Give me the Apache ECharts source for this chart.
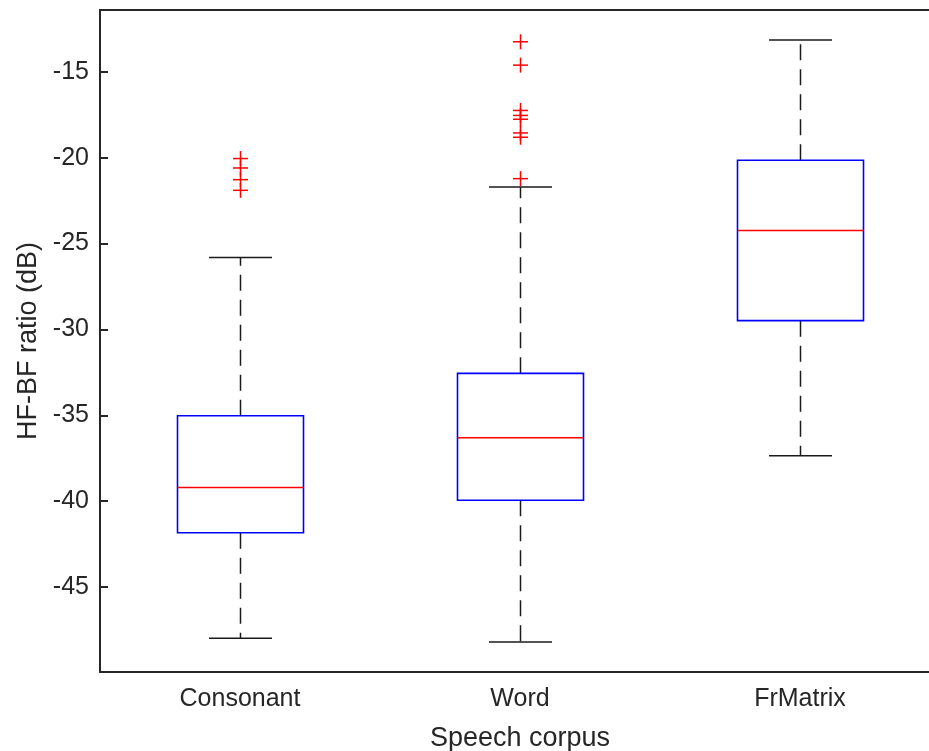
<!DOCTYPE html>
<html>
<head>
<meta charset="utf-8">
<title>HF-BF ratio by speech corpus</title>
<script src="https://cdn.jsdelivr.net/npm/echarts@6/dist/echarts.min.js"></script>
<style>
  html, body { margin: 0; padding: 0; overflow: hidden; background: #fff; }
  #chart { width: 960px; height: 751px; }
</style>
</head>
<body>
<div id="chart"></div>
<script>
// Corpora on the x axis
const categories = ['Consonant', 'Word', 'FrMatrix'];

// Five-number summaries per corpus: [lower whisker, Q1, median, Q3, upper whisker] in dB
const lowerWhisker = [-47.98, -48.21, -37.36];
const q1Values     = [-41.84, -39.95, -29.49];
const medianValues = [-39.21, -36.31, -24.24];
const q3Values     = [-35.03, -32.56, -20.15];
const upperWhisker = [-25.81, -21.71, -13.15];

// Outliers per corpus (dB)
const consonantOutliers = [-20.05, -20.6, -21.28, -21.9];
const wordOutliers = [-13.25, -14.61, -17.25, -17.54, -17.76, -18.56, -18.81, -21.22];
const frmatrixOutliers = [];

// Y-axis tick values
const yTicks = [-45, -40, -35, -30, -25, -20, -15];

const textColor = '#262626';
const fontFamily = "'Liberation Sans', Arial, Helvetica, sans-serif";

const boxData = categories.map((c, i) => [i, lowerWhisker[i], q1Values[i], medianValues[i], q3Values[i], upperWhisker[i]]);
const outlierData = [];
[consonantOutliers, wordOutliers, frmatrixOutliers].forEach((list, i) => {
  list.forEach(v => outlierData.push([i, v]));
});

function renderBox(params, api) {
  const idx = api.value(0);
  const lo = api.coord([idx, api.value(1)]);
  const q1 = api.coord([idx, api.value(2)]);
  const med = api.coord([idx, api.value(3)]);
  const q3 = api.coord([idx, api.value(4)]);
  const hi = api.coord([idx, api.value(5)]);
  const band = api.size([1, 0])[0];
  const boxW = band * 0.45;
  const capW = boxW / 2;
  const x = Math.round(lo[0]) + 0.5;
  const whiskerStyle = { stroke: '#1a1a1a', lineWidth: 1.5, lineDash: [16, 9] };
  const capStyle = { stroke: '#1a1a1a', lineWidth: 1.5 };
  return {
    type: 'group',
    children: [
      { type: 'line', shape: { x1: x, y1: q3[1], x2: x, y2: hi[1] }, style: whiskerStyle },
      { type: 'line', shape: { x1: x, y1: q1[1], x2: x, y2: lo[1] }, style: whiskerStyle },
      { type: 'line', shape: { x1: x - capW / 2, y1: hi[1], x2: x + capW / 2, y2: hi[1] }, style: capStyle },
      { type: 'line', shape: { x1: x - capW / 2, y1: lo[1], x2: x + capW / 2, y2: lo[1] }, style: capStyle },
      { type: 'rect', shape: { x: x - boxW / 2, y: q3[1], width: boxW, height: q1[1] - q3[1] },
        style: { fill: 'none', stroke: '#0000ff', lineWidth: 1.6 } },
      { type: 'line', shape: { x1: x - boxW / 2, y1: med[1], x2: x + boxW / 2, y2: med[1] },
        style: { stroke: '#ff0000', lineWidth: 1.6 } }
    ]
  };
}

function renderOutlier(params, api) {
  const p = api.coord([api.value(0), api.value(1)]);
  const h = 7.5;
  const x = Math.round(p[0]) + 0.5;
  const style = { stroke: '#ff0000', lineWidth: 1.5 };
  return {
    type: 'group',
    children: [
      { type: 'line', shape: { x1: x - h, y1: p[1], x2: x + h, y2: p[1] }, style },
      { type: 'line', shape: { x1: x, y1: p[1] - h, x2: x, y2: p[1] + h }, style }
    ]
  };
}

const chart = echarts.init(document.getElementById('chart'), null, { renderer: 'canvas' });
chart.setOption({
  animation: false,
  backgroundColor: '#ffffff',
  grid: { left: 100, top: 10, width: 840, height: 662, containLabel: false, outerBoundsMode: 'none' },
  xAxis: [
    {
      type: 'category',
      data: categories,
      position: 'bottom',
      boundaryGap: true,
      name: 'Speech corpus',
      nameLocation: 'middle',
      nameGap: 53,
      nameTextStyle: { color: textColor, fontSize: 27, fontFamily },
      axisLine: { lineStyle: { color: textColor, width: 2 } },
      axisTick: { inside: true, alignWithLabel: true, length: 9, lineStyle: { color: textColor, width: 2 } },
      axisLabel: { color: textColor, fontSize: 25, fontFamily, margin: 15 },
      splitLine: { show: false }
    },
    {
      type: 'category',
      data: categories,
      position: 'top',
      boundaryGap: true,
      axisLine: { lineStyle: { color: textColor, width: 2 } },
      axisTick: { inside: true, alignWithLabel: true, length: 9, lineStyle: { color: textColor, width: 2 } },
      axisLabel: { show: false },
      splitLine: { show: false }
    }
  ],
  yAxis: {
    type: 'value',
    min: -49.95,
    max: -11.4,
    name: 'HF-BF ratio (dB)',
    nameLocation: 'middle',
    nameGap: 58,
    nameTextStyle: { color: textColor, fontSize: 27, fontFamily },
    axisLine: { show: true, lineStyle: { color: textColor, width: 2 } },
    axisTick: { show: true, inside: true, length: 8, customValues: yTicks, lineStyle: { color: textColor, width: 2 } },
    axisLabel: { color: textColor, fontSize: 25, fontFamily, margin: 11, customValues: yTicks },
    splitLine: { show: false }
  },
  series: [
    {
      type: 'custom',
      xAxisIndex: 0,
      renderItem: renderBox,
      data: boxData,
      encode: { x: 0, y: [1, 2, 3, 4, 5] },
      clip: false
    },
    {
      type: 'custom',
      xAxisIndex: 0,
      renderItem: renderOutlier,
      data: outlierData,
      encode: { x: 0, y: 1 },
      clip: false
    }
  ]
});
</script>
</body>
</html>
